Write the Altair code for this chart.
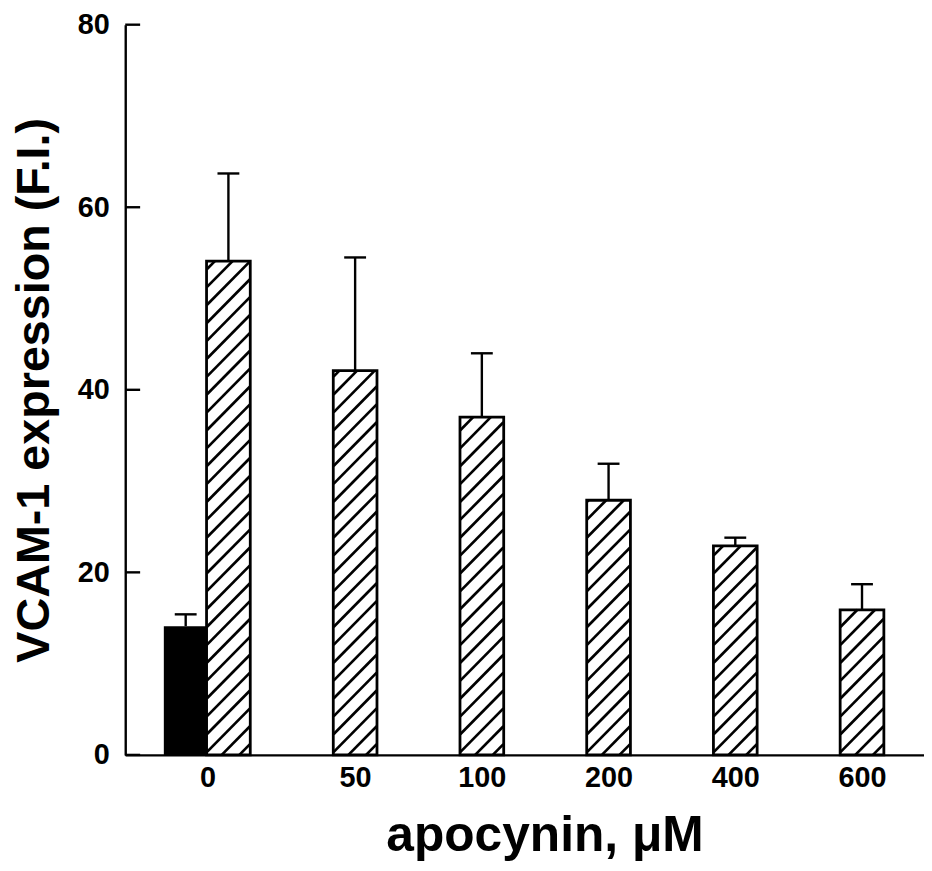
import json
import altair as alt
import pandas as pd

# ---------------- data ----------------
doses = ["0", "50", "100", "200", "400", "600"]          # apocynin, µM
treated_mean = [54.1, 42.1, 37.0, 27.9, 22.9, 15.9]     # hatched bars
treated_sem = [9.6, 12.4, 7.0, 4.0, 0.9, 2.8]
control_mean = [14.1]                                    # black bar (at dose 0)
control_sem = [1.3]
y_ticks = [0, 20, 40, 60, 80]

# ---------------- layout / style constants ----------------
W, H = 804, 735
X_DOMAIN = [-0.775, 5.45]
Y_DOMAIN = [0, 80]
BAR_PX = 44
CTRL_SHIFT = -43
HATCH_GAP = 18
FONT = "Liberation Sans"
X_TITLE = "apocynin, μM"
Y_TITLE = "VCAM-1 expression (F.I.)"

px_x = W / (X_DOMAIN[1] - X_DOMAIN[0])
px_y = H / (Y_DOMAIN[1] - Y_DOMAIN[0])

treated = pd.DataFrame({
    "pos": list(range(len(doses))),
    "dose": doses,
    "mean": treated_mean,
    "top": [m + s for m, s in zip(treated_mean, treated_sem)],
})
control = pd.DataFrame({
    "pos": [0],
    "mean": control_mean,
    "top": [m + s for m, s in zip(control_mean, control_sem)],
})

# diagonal hatch segments inside each hatched bar (derived from the bar values)
rows = []
for i, v in enumerate(treated_mean):
    h = v * px_y
    w = BAR_PX
    c = -w + HATCH_GAP * 0.6
    while c < h:
        u0 = max(0.0, -c)
        u1 = min(w, h - c)
        if u1 > u0:
            rows.append({
                "hx": i + (u0 - w / 2) / px_x,
                "hy": (u0 + c) / px_y,
                "hx2": i + (u1 - w / 2) / px_x,
                "hy2": (u1 + c) / px_y,
            })
        c += HATCH_GAP
hatch = pd.DataFrame(rows)

xscale = alt.Scale(domain=X_DOMAIN, nice=False, zero=False)
yscale = alt.Scale(domain=Y_DOMAIN, nice=False)

label_expr = json.dumps(doses) + "[datum.value]"

x_axis = alt.Axis(
    values=list(range(len(doses))),
    labelExpr=label_expr,
    labelOffset={"condition": {"test": "datum.value == 0", "value": -21}, "value": 0},
    tickSize=0, grid=False, labelPadding=9,
    labelFont=FONT, labelFontSize=29, labelFontWeight="bold", labelColor="black",
    domainColor="black", domainWidth=2.4,
    titleFont=FONT, titleFontSize=50, titleFontWeight="bold", titleColor="black",
    titlePadding=18, titleX=422, titleAlign="center",
)
y_axis = alt.Axis(
    values=y_ticks, tickSize=0, grid=False, labelPadding=16,
    labelFont=FONT, labelFontSize=29, labelFontWeight="bold", labelColor="black",
    domainColor="black", domainWidth=2.4,
    titleFont=FONT, titleFontSize=47, titleFontWeight="bold", titleColor="black",
    titlePadding=19,
)

X = lambda f: alt.X(f, type="quantitative", scale=xscale, axis=x_axis, title=X_TITLE)
Y = lambda f: alt.Y(f, type="quantitative", scale=yscale, axis=y_axis, title=Y_TITLE)

treated_fill = alt.Chart(treated).mark_bar(
    size=BAR_PX, color="white", orient="vertical"
).encode(x=X("pos"), y=Y("mean"))

hatch_lines = alt.Chart(hatch).mark_rule(
    color="black", strokeWidth=2.7, strokeCap="butt"
).encode(x=X("hx"), y=Y("hy"), x2="hx2", y2="hy2")

treated_outline = alt.Chart(treated).mark_bar(
    size=BAR_PX, fillOpacity=0, stroke="black", strokeWidth=2.8, orient="vertical"
).encode(x=X("pos"), y=Y("mean"))

control_bar = alt.Chart(control).mark_bar(
    size=BAR_PX, color="black", xOffset=CTRL_SHIFT, orient="vertical"
).encode(x=X("pos"), y=Y("mean"))

treated_err = alt.Chart(treated).mark_rule(color="black", strokeWidth=2.4).encode(
    x=X("pos"), y=Y("mean"), y2="top")
treated_cap = alt.Chart(treated).mark_tick(
    orient="horizontal", size=22, thickness=2.4, color="black", opacity=1
).encode(x=X("pos"), y=Y("top"))

control_err = alt.Chart(control).mark_rule(
    color="black", strokeWidth=2.4, xOffset=CTRL_SHIFT).encode(
    x=X("pos"), y=Y("mean"), y2="top")
control_cap = alt.Chart(control).mark_tick(
    orient="horizontal", size=22, thickness=2.4, color="black", opacity=1, xOffset=CTRL_SHIFT
).encode(x=X("pos"), y=Y("top"))

inward_ticks = alt.Chart(pd.DataFrame({"t": y_ticks})).mark_rule(
    color="black", strokeWidth=2.4
).encode(y=Y("t"), x=alt.value(0), x2=alt.value(15))

chart = alt.layer(
    treated_fill, hatch_lines, treated_outline, control_bar,
    treated_err, treated_cap, control_err, control_cap, inward_ticks,
).properties(
    width=W, height=H,
    autosize=alt.AutoSizeParams(type="none"),
    padding={"left": 118, "top": 14, "right": 0, "bottom": 106},
    background="white",
).configure_view(stroke=None)

chart.save("out.html", embed_options={"renderer": "svg", "actions": False})
